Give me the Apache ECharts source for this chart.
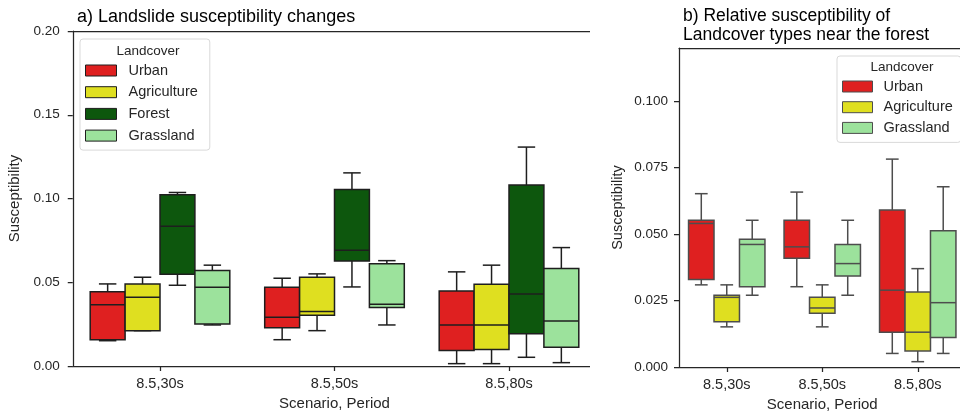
<!DOCTYPE html>
<html>
<head>
<meta charset="utf-8">
<script src="https://cdn.jsdelivr.net/npm/echarts@6/dist/echarts.min.js"></script>
<style>
  html, body { margin: 0; padding: 0; background: #ffffff; }
  #chart { width: 960px; height: 412px; }
</style>
</head>
<body>
<div id="chart"></div>
<script>
// Scenario / period categories shared by both panels
const categories = ['8.5,30s', '8.5,50s', '8.5,80s'];

// Each row: [lower whisker, Q1, median, Q3, upper whisker], one row per category
// Panel a) landslide susceptibility changes
const urbanA = [[0.0151, 0.0157, 0.0365, 0.0444, 0.0490], [0.0157, 0.0229, 0.0291, 0.0470, 0.0524], [0.0014, 0.0092, 0.0245, 0.0448, 0.0562]];
const agricultureA = [[0.0211, 0.0211, 0.0410, 0.0490, 0.0530], [0.0211, 0.0303, 0.0325, 0.0530, 0.0550], [0.0014, 0.0098, 0.0245, 0.0488, 0.0602]];
const forestA = [[0.0482, 0.0548, 0.0835, 0.1022, 0.1036], [0.0472, 0.0627, 0.0691, 0.1054, 0.1153], [0.0052, 0.0193, 0.0430, 0.1080, 0.1307]];
const grasslandA = [[0.0245, 0.0251, 0.0470, 0.0570, 0.0602], [0.0245, 0.0349, 0.0369, 0.0610, 0.0629], [0.0020, 0.0112, 0.0269, 0.0582, 0.0707]];

// Panel b) relative susceptibility near the forest
const urbanB = [[0.0309, 0.0329, 0.0540, 0.0552, 0.0652], [0.0302, 0.0409, 0.0452, 0.0552, 0.0658], [0.0051, 0.0131, 0.0289, 0.0591, 0.0782]];
const agricultureB = [[0.0151, 0.0170, 0.0262, 0.0270, 0.0309], [0.0151, 0.0202, 0.0222, 0.0262, 0.0309], [0.0020, 0.0060, 0.0131, 0.0282, 0.0370]];
const grasslandB = [[0.0270, 0.0302, 0.0461, 0.0481, 0.0552], [0.0270, 0.0342, 0.0389, 0.0461, 0.0552], [0.0051, 0.0111, 0.0242, 0.0513, 0.0678]];

// Tick values
const ticksA = [0, 0.05, 0.10, 0.15, 0.20];
const ticksB = [0, 0.025, 0.05, 0.075, 0.1];

const FONT = '"Liberation Sans", Arial, Helvetica, sans-serif';
const INK = '#262626';
const EDGE_A = '#1e1e1e';
const EDGE_B = '#4d4d4d';
const COLORS = {
  Urban: '#df2020',
  Agriculture: '#dfdf20',
  Forest: '#0d570d',
  Grassland: '#9ce29c'
};

// Box-and-whisker glyph laid out like a dodged group inside each category band
function boxRenderer(slot, slots, edge) {
  return function (params, api) {
    const cat = api.value(0);
    const band = api.size([1, 0])[0];
    const w = band * 0.8 / slots;
    const cx = api.coord([cat, 0])[0] + (slot - (slots - 1) / 2) * w;
    const y = i => api.coord([cat, api.value(i)])[1];
    const yLo = y(1), yQ1 = y(2), yMed = y(3), yQ3 = y(4), yHi = y(5);
    const ls = { stroke: edge, lineWidth: 1.5, fill: null };
    return {
      type: 'group',
      children: [
        { type: 'line', shape: { x1: cx, y1: yQ3, x2: cx, y2: yHi }, style: ls },
        { type: 'line', shape: { x1: cx, y1: yQ1, x2: cx, y2: yLo }, style: ls },
        { type: 'line', shape: { x1: cx - w / 4, y1: yHi, x2: cx + w / 4, y2: yHi }, style: ls },
        { type: 'line', shape: { x1: cx - w / 4, y1: yLo, x2: cx + w / 4, y2: yLo }, style: ls },
        { type: 'rect', shape: { x: cx - w / 2, y: yQ3, width: w, height: yQ1 - yQ3 },
          style: { fill: api.visual('color'), stroke: edge, lineWidth: 1.5 } },
        { type: 'line', shape: { x1: cx - w / 2, y1: yMed, x2: cx + w / 2, y2: yMed }, style: ls }
      ]
    };
  };
}

function boxSeries(name, rows, slot, slots, panel, edge) {
  return {
    type: 'custom',
    name: name,
    xAxisIndex: panel * 2,
    yAxisIndex: panel,
    itemStyle: { color: COLORS[name] },
    encode: { x: 0, y: [1, 2, 3, 4, 5] },
    data: rows.map((r, i) => [i].concat(r)),
    renderItem: boxRenderer(slot, slots, edge),
    silent: true
  };
}

const axisLine = { show: true, lineStyle: { color: INK, width: 1.25 } };
const tick = { show: true, length: 5, lineStyle: { color: INK, width: 1.25 } };

function xAxes(gridIndex) {
  return [
    {
      gridIndex: gridIndex, type: 'category', data: categories, position: 'bottom',
      axisLine: axisLine,
      axisTick: Object.assign({ alignWithLabel: true }, tick),
      axisLabel: { fontSize: 14.5, color: INK, margin: 10, fontFamily: FONT },
      name: 'Scenario, Period', nameLocation: 'middle', nameGap: 30,
      nameTextStyle: { fontSize: 15, color: INK, fontFamily: FONT },
      splitLine: { show: false }
    },
    {
      gridIndex: gridIndex, type: 'category', data: categories, position: 'top',
      axisLine: axisLine, axisTick: { show: false }, axisLabel: { show: false },
      splitLine: { show: false }
    }
  ];
}

const option = {
  animation: false,
  backgroundColor: '#ffffff',
  textStyle: { fontFamily: FONT },
  title: [
    { text: 'a) Landslide susceptibility changes', left: 72, top: 3,
      textStyle: { fontSize: 18, fontWeight: 'normal', color: '#000', fontFamily: FONT } },
    { text: 'b) Relative susceptibility of\nLandcover types near the forest', left: 678, top: 2,
      textStyle: { fontSize: 17.5, fontWeight: 'normal', color: '#000', lineHeight: 18.5, fontFamily: FONT } },
    { text: 'Landcover', left: 143, top: 39, textAlign: 'center',
      textStyle: { fontSize: 13.5, fontWeight: 'normal', color: INK, fontFamily: FONT } },
    { text: 'Landcover', left: 897, top: 55, textAlign: 'center',
      textStyle: { fontSize: 13.5, fontWeight: 'normal', color: INK, fontFamily: FONT } }
  ],
  legend: [
    {
      data: ['Urban', 'Agriculture', 'Forest', 'Grassland'],
      left: 80, top: 39, orient: 'vertical', icon: 'rect',
      itemWidth: 31, itemHeight: 11, itemGap: 6.7,
      padding: [24, 12, 7, 5],
      backgroundColor: 'rgba(255,255,255,0.8)', borderColor: '#d9d9d9', borderWidth: 1, borderRadius: 3,
      itemStyle: { borderColor: EDGE_A, borderWidth: 1 },
      textStyle: { fontSize: 14.5, color: INK, lineHeight: 11, padding: [0, 0, 0, 7], fontFamily: FONT },
      selectedMode: false
    },
    {
      data: ['Urban', 'Agriculture', 'Grassland'],
      left: 837, top: 56, orient: 'vertical', icon: 'rect',
      itemWidth: 30, itemHeight: 11, itemGap: 5.7,
      padding: [23, 8, 7, 5],
      backgroundColor: 'rgba(255,255,255,0.8)', borderColor: '#d9d9d9', borderWidth: 1, borderRadius: 3,
      itemStyle: { borderColor: EDGE_B, borderWidth: 1 },
      textStyle: { fontSize: 14.5, color: INK, lineHeight: 11, padding: [0, 0, 0, 6], fontFamily: FONT },
      selectedMode: false
    }
  ],
  grid: [
    { left: 72.75, top: 31, width: 523.5, height: 335, containLabel: false, outerBoundsMode: 'none' },
    { left: 679, top: 48, width: 286.5, height: 319, containLabel: false, outerBoundsMode: 'none' }
  ],
  xAxis: xAxes(0).concat(xAxes(1)),
  yAxis: [
    {
      gridIndex: 0, type: 'value', min: 0, max: 0.2, interval: 0.05,
      axisLine: axisLine,
      axisTick: Object.assign({ customValues: ticksA }, tick),
      axisLabel: { customValues: ticksA, formatter: v => v.toFixed(2), fontSize: 13.5, color: INK, margin: 13, fontFamily: FONT },
      splitLine: { show: false },
      name: 'Susceptibility', nameLocation: 'middle', nameGap: 49,
      nameTextStyle: { fontSize: 15, color: INK, fontFamily: FONT }
    },
    {
      gridIndex: 1, type: 'value', min: 0, max: 0.12, interval: 0.025,
      axisLine: axisLine,
      axisTick: Object.assign({ customValues: ticksB }, tick),
      axisLabel: { customValues: ticksB, formatter: v => (v > 0.11 ? '' : v.toFixed(3)), fontSize: 13.5, color: INK, margin: 11, fontFamily: FONT },
      splitLine: { show: false },
      name: 'Susceptibility', nameLocation: 'middle', nameGap: 54,
      nameTextStyle: { fontSize: 14.5, color: INK, fontFamily: FONT }
    }
  ],
  graphic: [
    // trims the left panel's frame where the figure is cut between panels
    { type: 'rect', left: 590, top: 20, shape: { width: 14, height: 360 }, style: { fill: '#ffffff' }, z: 50, silent: true }
  ],
  series: [
    boxSeries('Urban', urbanA, 0, 4, 0, EDGE_A),
    boxSeries('Agriculture', agricultureA, 1, 4, 0, EDGE_A),
    boxSeries('Forest', forestA, 2, 4, 0, EDGE_A),
    boxSeries('Grassland', grasslandA, 3, 4, 0, EDGE_A),
    boxSeries('Urban', urbanB, 0, 3, 1, EDGE_B),
    boxSeries('Agriculture', agricultureB, 1, 3, 1, EDGE_B),
    boxSeries('Grassland', grasslandB, 2, 3, 1, EDGE_B)
  ]
};

const chart = echarts.init(document.getElementById('chart'), null, { renderer: 'canvas' });
chart.setOption(option);
</script>
</body>
</html>
